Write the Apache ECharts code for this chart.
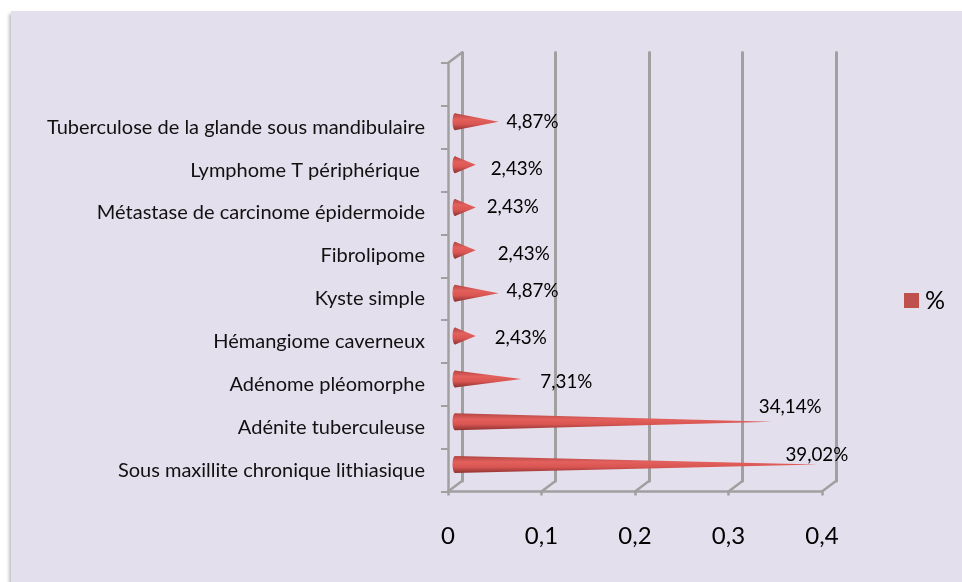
<!DOCTYPE html>
<html>
<head>
<meta charset="utf-8">
<style>html,body{margin:0;padding:0;background:#fff}#charts{width:962px;height:582px}</style>
<script src="https://cdn.jsdelivr.net/npm/echarts@6/dist/echarts.min.js"></script>
</head>
<body>
<div id="charts"></div>
<script>
// bottom to top, the last band of the axis stays empty
const categories = [
	'Sous maxillite chronique lithiasique',
	'Adénite tuberculeuse',
	'Adénome pléomorphe',
	'Hémangiome caverneux',
	'Kyste simple',
	'Fibrolipome',
	'Métastase de carcinome épidermoide',
	'Lymphome T périphérique\u00a0',
	'Tuberculose de la glande sous mandibulaire'
];
const values = [0.3902, 0.3414, 0.0731, 0.0243, 0.0487, 0.0243, 0.0243, 0.0243, 0.0487];
const valueLabels = ['39,02%', '34,14%', '7,31%', '2,43%', '4,87%', '2,43%', '2,43%', '2,43%', '4,87%'];
const xTicks = [0, 0.1, 0.2, 0.3, 0.4];

// hand placed data labels, same order as categories
const labelShift = [[-1, -15], [18, -20], [45, -2], [45, -4], [34, -7.5], [48, -1.5], [37, -6.5], [41, -1.5], [34, -5]];

const GREY = '#a0a0a0';
const DEPTH_X = 14;
const DEPTH_Y = -10.5;
const CONE_X = 7;
const TIP_X = 5;
const CONE_Y = -5.5;
const CONE_R = 8.5;

const coneFill = new echarts.graphic.LinearGradient(0, 0, 0, 1, [
	{ offset: 0, color: '#b04543' },
	{ offset: 0.35, color: '#e4605d' },
	{ offset: 0.65, color: '#d85552' },
	{ offset: 1, color: '#8c3230' }
]);

function renderCone(params, api) {
	const i = params.dataIndex;
	const base = api.coord([0, api.value(1)]);
	const tip = api.coord([api.value(0), api.value(1)]);
	const x0 = base[0] + CONE_X;
	const x1 = tip[0] + TIP_X;
	const y = base[1] + CONE_Y;
	return {
		type: 'group',
		children: [
			{
				type: 'polygon',
				shape: { points: [[x0, y - CONE_R], [x1, y], [x0, y + CONE_R]] },
				style: { fill: coneFill }
			},
			{
				type: 'ellipse',
				shape: { cx: x0, cy: y, rx: 2.5, ry: CONE_R },
				style: { fill: coneFill }
			},
			{
				type: 'text',
				style: {
					x: x1 + labelShift[i][0],
					y: base[1] + labelShift[i][1],
					text: valueLabels[i],
					align: 'center',
					verticalAlign: 'middle',
					font: '18.8px Lato',
					fill: '#000'
				}
			}
		]
	};
}

// floor diagonals between the front axis and the back wall
function renderFloor(params, api) {
	const p = api.coord([api.value(0), 0]);
	const cs = params.coordSys;
	const y = cs.y + cs.height;
	return {
		type: 'line',
		shape: { x1: p[0], y1: y, x2: p[0] + DEPTH_X, y2: y + DEPTH_Y },
		style: { stroke: GREY, lineWidth: 2.5, lineCap: 'round' }
	};
}

function renderTopEdge(params, api) {
	const cs = params.coordSys;
	return {
		type: 'line',
		shape: { x1: cs.x, y1: cs.y, x2: cs.x + DEPTH_X, y2: cs.y + DEPTH_Y },
		style: { stroke: GREY, lineWidth: 2.5, lineCap: 'round' }
	};
}

const myChart = echarts.init(document.getElementById('charts'));
myChart.setOption({
	animation: false,
	backgroundColor: '#fff',
	textStyle: { fontFamily: 'Lato' },
	graphic: [{
		type: 'rect',
		z: -10,
		silent: true,
		shape: { x: 11, y: 11, width: 960, height: 580 },
		style: { fill: '#e4dfec', shadowColor: 'rgba(0,0,0,0.25)', shadowBlur: 3, shadowOffsetX: -2, shadowOffsetY: 3 }
	}],
	legend: {
		data: ['%'],
		left: 904,
		top: 288,
		icon: 'rect',
		itemWidth: 15,
		itemHeight: 15,
		padding: 0,
		textStyle: { fontSize: 25, color: '#000', fontFamily: 'Lato', padding: [0, 0, 0, 1] }
	},
	grid: [
		{ left: 448, top: 63, width: 374, height: 428.5 },
		{ left: 448 + DEPTH_X, top: 63 + DEPTH_Y, width: 374, height: 428.5 }
	],
	xAxis: [
		{
			gridIndex: 0,
			type: 'value',
			min: 0,
			max: 0.4,
			interval: 0.1,
			axisLine: { show: true, lineStyle: { color: GREY, width: 2.5 } },
			axisTick: { show: true, length: 4, lineStyle: { color: GREY, width: 2.5 } },
			splitLine: { show: false },
			axisLabel: {
				fontSize: 24,
				color: '#000',
				margin: 33,
				fontFamily: 'Lato',
				formatter: (v) => String(v).replace('.', ',')
			}
		},
		{
			gridIndex: 1,
			type: 'value',
			min: 0,
			max: 0.4,
			interval: 0.1,
			axisLine: { show: false },
			axisTick: { show: false },
			axisLabel: { show: false },
			splitLine: { show: true, lineStyle: { color: GREY, width: 3, cap: 'round' } }
		}
	],
	yAxis: [
		{
			gridIndex: 0,
			type: 'category',
			data: [...categories, ''],
			axisLine: { show: true, lineStyle: { color: GREY, width: 2.5 } },
			axisTick: { show: true, length: 7, alignWithLabel: false, lineStyle: { color: GREY, width: 2 } },
			axisLabel: { fontSize: 20, color: '#111', margin: 23, fontFamily: 'Lato', interval: 0, padding: [2, 0, 0, 0] }
		},
		{
			gridIndex: 1,
			type: 'category',
			show: false,
			data: [...categories, '']
		}
	],
	series: [
		{
			type: 'custom',
			name: 'floor',
			xAxisIndex: 0,
			yAxisIndex: 0,
			clip: false,
			silent: true,
			z: 1,
			renderItem: renderFloor,
			data: xTicks.map((t) => [t])
		},
		{
			type: 'custom',
			name: 'top',
			xAxisIndex: 0,
			yAxisIndex: 0,
			clip: false,
			silent: true,
			z: 1,
			renderItem: renderTopEdge,
			data: [[0]]
		},
		{
			type: 'custom',
			name: '%',
			xAxisIndex: 0,
			yAxisIndex: 0,
			clip: false,
			z: 3,
			itemStyle: { color: '#c0504d' },
			renderItem: renderCone,
			encode: { x: 0, y: 1 },
			data: values.map((v, i) => [v, i])
		}
	]
});
</script>
</body>
</html>
